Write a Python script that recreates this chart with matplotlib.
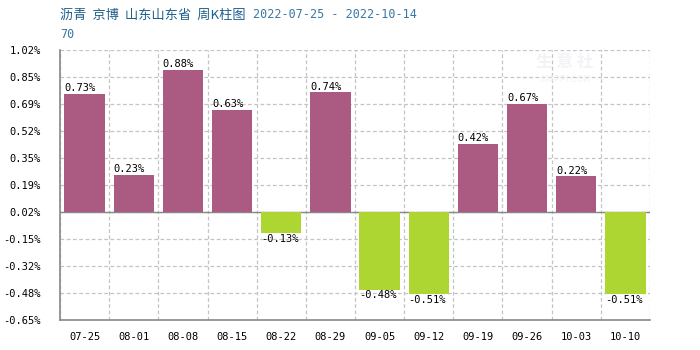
import numpy as np
import matplotlib.pyplot as plt

plt.rcParams['font.family'] = ['Noto Sans CJK SC', 'DejaVu Sans']

# weekly change, %
weeks = ["07-25", "08-01", "08-08", "08-15", "08-22", "08-29",
         "09-05", "09-12", "09-19", "09-26", "10-03", "10-10"]
changes = [0.73, 0.23, 0.88, 0.63, -0.13, 0.74,
           -0.48, -0.51, 0.42, 0.67, 0.22, -0.51]
ytick_labels = ["-0.65%", "-0.48%", "-0.32%", "-0.15%", "0.02%", "0.19%",
                "0.35%", "0.52%", "0.69%", "0.85%", "1.02%"]

UP, DOWN = "#ab5a82", "#add633"
GRID, AXIS = "#c4c4c4", "#888888"
MONO = "DejaVu Sans Mono"

fig = plt.figure(figsize=(7, 3.5), dpi=100)
ax = fig.add_axes([60/700, 30/350, 590/700, 270/350])

x = np.arange(len(weeks))
colors = [UP if v >= 0 else DOWN for v in changes]
ax.bar(x, changes, width=0.82, color=colors, zorder=3)

for xi, v in zip(x, changes):
    if v >= 0:
        ax.text(xi - 0.41, v + 0.005, f"{v:.2f}%", ha="left", va="bottom",
                fontsize=7.5, family=MONO, zorder=4)
    else:
        ax.text(xi - 0.41, v - 0.005, f"{v:.2f}%", ha="left", va="top",
                fontsize=7.5, family=MONO, zorder=4)

step = 0.167
yt = np.arange(-4, 7) * step
ax.set_ylim(yt[0], yt[-1])
ax.set_xlim(-0.5, len(weeks) - 0.5)
ax.set_yticks(yt)
ax.set_yticklabels(ytick_labels, family=MONO, fontsize=7.5)
ax.set_xticks(x)
ax.set_xticklabels(weeks, family=MONO, fontsize=7.5)
ax.tick_params(length=0)
ax.tick_params(axis="x", pad=9)
ax.tick_params(axis="y", pad=14)

# dashed grid: horizontal on ticks, vertical between categories
for y in yt:
    ax.axhline(y, color=GRID, lw=0.9, ls=(0, (3, 2)), zorder=1)
for b in np.arange(-0.5, len(weeks), 1.0):
    ax.axvline(b, color=GRID, lw=0.9, ls=(0, (3, 2)), zorder=1)
ax.axhline(0, color=AXIS, lw=1.0, zorder=2)

for s in ("top", "right"):
    ax.spines[s].set_visible(False)
for s in ("left", "bottom"):
    ax.spines[s].set_color(AXIS)
    ax.spines[s].set_linewidth(1.2)

# watermark
fig.text(565/700, 1 - 62/350, "生 意 社", color="#f3f2f6", fontsize=12,
         fontweight="bold", ha="center", va="center")
fig.text(565/700, 1 - 80/350, "100PPI.COM", color="#f3f2f6", fontsize=6.5,
         ha="center", va="center")

fig.text(60/700, 1 - 15/350, "沥青  京博  山东山东省  周K柱图", color="#1f5f8b",
         fontsize=9.5, ha="left", va="center")
fig.text(253/700, 1 - 15/350, "2022-07-25 - 2022-10-14", color="#3a78a4",
         fontsize=8.5, family=MONO, ha="left", va="center")
fig.text(60/700, 1 - 35/350, "70", color="#3a78a4", fontsize=8.5, family=MONO,
         ha="left", va="center")

fig.savefig("out.png", dpi=100)
